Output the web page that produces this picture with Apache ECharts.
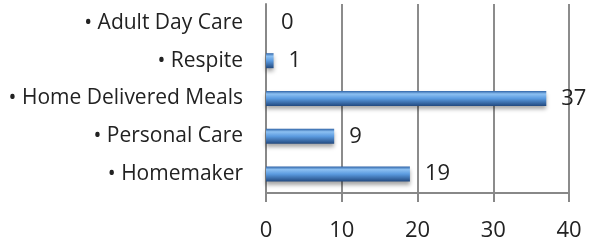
<!DOCTYPE html>
<html>
<head>
<meta charset="utf-8">
<script src="https://cdn.jsdelivr.net/npm/echarts@6/dist/echarts.min.js"></script>
<style>
    html, body { margin: 0; padding: 0; background: #fff; }
    #chart { width: 601px; height: 245px; }
</style>
</head>
<body>
<div id="chart"></div>
<script>
// values, bottom to top
var categories = ['Homemaker', 'Personal Care', 'Home Delivered Meals', 'Respite', 'Adult Day Care'];
var counts = [19, 9, 37, 1, 0];
var xTicks = [0, 10, 20, 30, 40];

var chart = echarts.init(document.getElementById('chart'));
var font = '"Open Sans", "Noto Sans", sans-serif';

chart.setOption({
    animation: false,
    grid: {
        left: 266,
        right: 32,
        top: 4,
        bottom: 52,
        containLabel: false,
        outerBoundsMode: 'none'
    },
    xAxis: {
        type: 'value',
        min: xTicks[0],
        max: xTicks[xTicks.length - 1],
        interval: 10,
        axisLine: { show: true, lineStyle: { color: '#888', width: 2 } },
        axisTick: { show: true, length: 9, lineStyle: { color: '#888', width: 2 } },
        splitLine: { lineStyle: { color: '#8c8c8c', width: 2 } },
        axisLabel: { fontFamily: font, fontSize: 22, color: '#222', margin: 27 }
    },
    yAxis: {
        type: 'category',
        data: categories,
        axisLine: { lineStyle: { color: '#888', width: 2 } },
        axisTick: { length: 6, lineStyle: { color: '#888', width: 2 } },
        axisLabel: {
            fontFamily: font,
            fontSize: 21,
            color: '#222',
            margin: 23,
            formatter: function (v) { return '\u2022 ' + v; }
        }
    },
    series: [{
        type: 'bar',
        data: counts,
        barWidth: 15,
        itemStyle: {
            color: new echarts.graphic.LinearGradient(0, 0, 0, 1, [
                { offset: 0, color: '#2f64a8' },
                { offset: 0.2, color: '#8cc0f2' },
                { offset: 0.5, color: '#5b9be0' },
                { offset: 1, color: '#22497f' }
            ]),
            shadowColor: 'rgba(0,0,0,0.35)',
            shadowBlur: 4,
            shadowOffsetY: 3
        },
        label: {
            show: true,
            position: 'right',
            distance: 15,
            fontFamily: font,
            fontSize: 22,
            color: '#222'
        }
    }]
});
</script>
</body>
</html>
